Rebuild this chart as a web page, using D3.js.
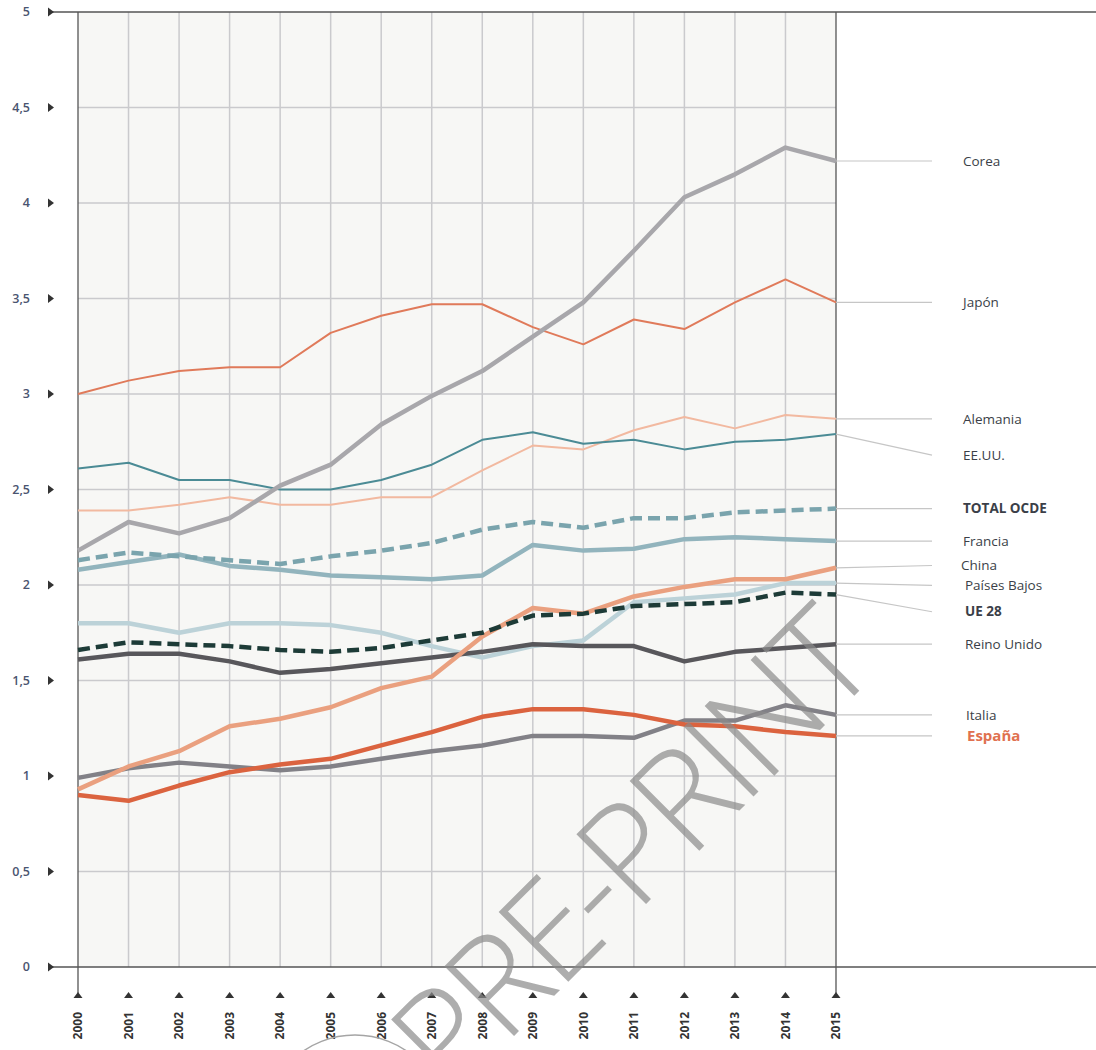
<!DOCTYPE html>
<html lang="es">
<head>
<meta charset="utf-8">
<script src="https://d3js.org/d3.v7.min.js"></script>
<style>
  body { margin: 0; background: #fff; }
  svg { display: block; font-family: "Open Sans", sans-serif; }
</style>
</head>
<body>
<div id="chart"></div>
<script>
// data (gasto en I+D, % PIB)
var years = [2000,2001,2002,2003,2004,2005,2006,2007,2008,2009,2010,2011,2012,2013,2014,2015];
var yTicks = [0, 0.5, 1, 1.5, 2, 2.5, 3, 3.5, 4, 4.5, 5];
var yTickLabels = ["0","0,5","1","1,5","2","2,5","3","3,5","4","4,5","5"];

var corea      = [2.18,2.33,2.27,2.35,2.52,2.63,2.84,2.99,3.12,3.30,3.48,3.75,4.03,4.15,4.29,4.22];
var japon      = [3.00,3.07,3.12,3.14,3.14,3.32,3.41,3.47,3.47,3.35,3.26,3.39,3.34,3.48,3.60,3.48];
var alemania   = [2.39,2.39,2.42,2.46,2.42,2.42,2.46,2.46,2.60,2.73,2.71,2.81,2.88,2.82,2.89,2.87];
var eeuu       = [2.61,2.64,2.55,2.55,2.50,2.50,2.55,2.63,2.76,2.80,2.74,2.76,2.71,2.75,2.76,2.79];
var totalOcde  = [2.13,2.17,2.15,2.13,2.11,2.15,2.18,2.22,2.29,2.33,2.30,2.35,2.35,2.38,2.39,2.40];
var francia    = [2.08,2.12,2.16,2.10,2.08,2.05,2.04,2.03,2.05,2.21,2.18,2.19,2.24,2.25,2.24,2.23];
var china      = [0.93,1.05,1.13,1.26,1.30,1.36,1.46,1.52,1.73,1.88,1.85,1.94,1.99,2.03,2.03,2.09];
var paisesBajos= [1.80,1.80,1.75,1.80,1.80,1.79,1.75,1.68,1.62,1.68,1.71,1.91,1.93,1.95,2.01,2.01];
var ue28       = [1.66,1.70,1.69,1.68,1.66,1.65,1.67,1.71,1.75,1.84,1.85,1.89,1.90,1.91,1.96,1.95];
var reinoUnido = [1.61,1.64,1.64,1.60,1.54,1.56,1.59,1.62,1.65,1.69,1.68,1.68,1.60,1.65,1.67,1.69];
var italia     = [0.99,1.04,1.07,1.05,1.03,1.05,1.09,1.13,1.16,1.21,1.21,1.20,1.29,1.29,1.37,1.32];
var espana     = [0.90,0.87,0.95,1.02,1.06,1.09,1.16,1.23,1.31,1.35,1.35,1.32,1.27,1.26,1.23,1.21];

// series, drawn bottom to top
var series = [
  {name:"Alemania",     values:alemania,    color:"#f2b9a0", w:2},
  {name:"EE.UU.",       values:eeuu,        color:"#4b8b95", w:2, labelShift:-0.11},
  {name:"Japón",        values:japon,       color:"#e07a5a", w:2},
  {name:"Países Bajos", values:paisesBajos, color:"#bcd2d8", w:4.5, labelShift:-0.012, dx:2},
  {name:"Francia",      values:francia,     color:"#92b4bd", w:4.5},
  {name:"Italia",       values:italia,      color:"#828187", w:4.5, dx:3},
  {name:"Reino Unido",  values:reinoUnido,  color:"#58575b", w:4.5, dx:2},
  {name:"China",        values:china,       color:"#eaa07f", w:4.5, labelShift:0.012, dx:-2},
  {name:"España",       values:espana,      color:"#db633f", w:4.5, bold:true, labelColor:"#e0714f", size:15, dx:4},
  {name:"Corea",        values:corea,       color:"#a8a7ab", w:4.5},
  {name:"TOTAL OCDE",   values:totalOcde,   color:"#7aa4ad", w:4.5, dash:"12,6", bold:true},
  {name:"UE 28",        values:ue28,        color:"#1d3b37", w:4.5, dash:"12,6", bold:true, labelShift:-0.09, dx:2}
];

var width = 1096, height = 1050;
var x0 = 78, x1 = 836, yTop = 12, yBot = 967;

var svg = d3.select("#chart").append("svg")
  .attr("width", width).attr("height", height);

var x = d3.scaleLinear().domain([2000, 2015]).range([x0, x1]);
var y = d3.scaleLinear().domain([0, 5]).range([yBot, yTop]);

// plot background
svg.append("rect")
  .attr("x", x0).attr("y", yTop)
  .attr("width", x1 - x0).attr("height", yBot - yTop)
  .attr("fill", "#f7f7f5");

// grid
svg.append("g").selectAll("line").data(yTicks.slice(1, -1)).enter()
  .append("line")
  .attr("x1", x0).attr("x2", x1)
  .attr("y1", d => y(d)).attr("y2", d => y(d))
  .attr("stroke", "#cacacd").attr("stroke-width", 1.5);
svg.append("g").selectAll("line").data(years.slice(1, -1)).enter()
  .append("line")
  .attr("x1", d => x(d)).attr("x2", d => x(d))
  .attr("y1", yTop).attr("y2", yBot)
  .attr("stroke", "#cacacd").attr("stroke-width", 1.5);

// frame lines
svg.append("line").attr("x1", 52).attr("x2", width).attr("y1", yTop).attr("y2", yTop)
  .attr("stroke", "#555").attr("stroke-width", 1.3);
svg.append("line").attr("x1", 52).attr("x2", width).attr("y1", yBot).attr("y2", yBot)
  .attr("stroke", "#555").attr("stroke-width", 1.3);
[2000, 2015].forEach(function(yr) {
  svg.append("line").attr("x1", x(yr)).attr("x2", x(yr)).attr("y1", yTop).attr("y2", 993)
    .attr("stroke", "#555").attr("stroke-width", 1.3);
});

// y ticks: triangles + labels
var yAxis = svg.append("g");
yAxis.selectAll("path").data(yTicks).enter().append("path")
  .attr("d", d => "M48," + (y(d) - 4.5) + "L54," + y(d) + "L48," + (y(d) + 4.5) + "Z")
  .attr("fill", "#333");
yAxis.selectAll("text").data(yTicks).enter().append("text")
  .attr("x", 30).attr("y", d => y(d)).attr("dy", "0.35em")
  .attr("text-anchor", "end")
  .attr("font-size", 12.5).attr("font-weight", 600)
  .attr("fill", "#4a5470")
  .text((d, i) => yTickLabels[i]);

// x ticks: triangles + rotated labels
var xAxis = svg.append("g");
xAxis.selectAll("path").data(years).enter().append("path")
  .attr("d", d => "M" + (x(d) - 4.5) + ",998L" + x(d) + ",992L" + (x(d) + 4.5) + ",998Z")
  .attr("fill", "#333");
xAxis.selectAll("text").data(years).enter().append("text")
  .attr("transform", d => "translate(" + x(d) + ",1012) rotate(-90)")
  .attr("dy", "0.36em")
  .attr("text-anchor", "end")
  .attr("font-size", 12).attr("font-weight", 700)
  .attr("fill", "#333")
  .text(d => d);

// lines
var line = d3.line()
  .x((d, i) => x(years[i]))
  .y(d => y(d));

svg.append("g").selectAll("path").data(series).enter().append("path")
  .attr("d", d => line(d.values))
  .attr("fill", "none")
  .attr("stroke", d => d.color)
  .attr("stroke-width", d => d.w)
  .attr("stroke-dasharray", d => d.dash || null)
  .attr("stroke-linejoin", "round");

// legend leaders + labels
var leg = svg.append("g");
var last = d => d.values[d.values.length - 1];
leg.selectAll("line").data(series).enter().append("line")
  .attr("x1", x1).attr("x2", 932)
  .attr("y1", d => y(last(d)))
  .attr("y2", d => y(last(d) + (d.labelShift || 0)))
  .attr("stroke", "#c6c6c6").attr("stroke-width", 1.2);
leg.selectAll("text").data(series).enter().append("text")
  .attr("x", d => 963 + (d.dx || 0))
  .attr("y", d => y(last(d) + (d.labelShift || 0)))
  .attr("dy", "0.35em")
  .attr("font-size", d => d.size || 13.5)
  .attr("font-weight", d => d.bold ? 700 : 400)
  .attr("fill", d => d.labelColor || "#3b3f48")
  .text(d => d.name);

// watermark
svg.append("circle")
  .attr("cx", 355).attr("cy", 1126).attr("r", 91)
  .attr("fill", "none").attr("stroke", "#a5a5a5").attr("stroke-width", 1.5);
svg.append("text")
  .attr("transform", "translate(451,1099) rotate(-45)")
  .attr("text-anchor", "start")
  .attr("font-size", 138).attr("font-weight", 300)
  .attr("textLength", 610).attr("lengthAdjust", "spacing")
  .attr("fill", "#8a8a8a").attr("fill-opacity", 0.7)
  .text("PRE-PRINT");
</script>
</body>
</html>
